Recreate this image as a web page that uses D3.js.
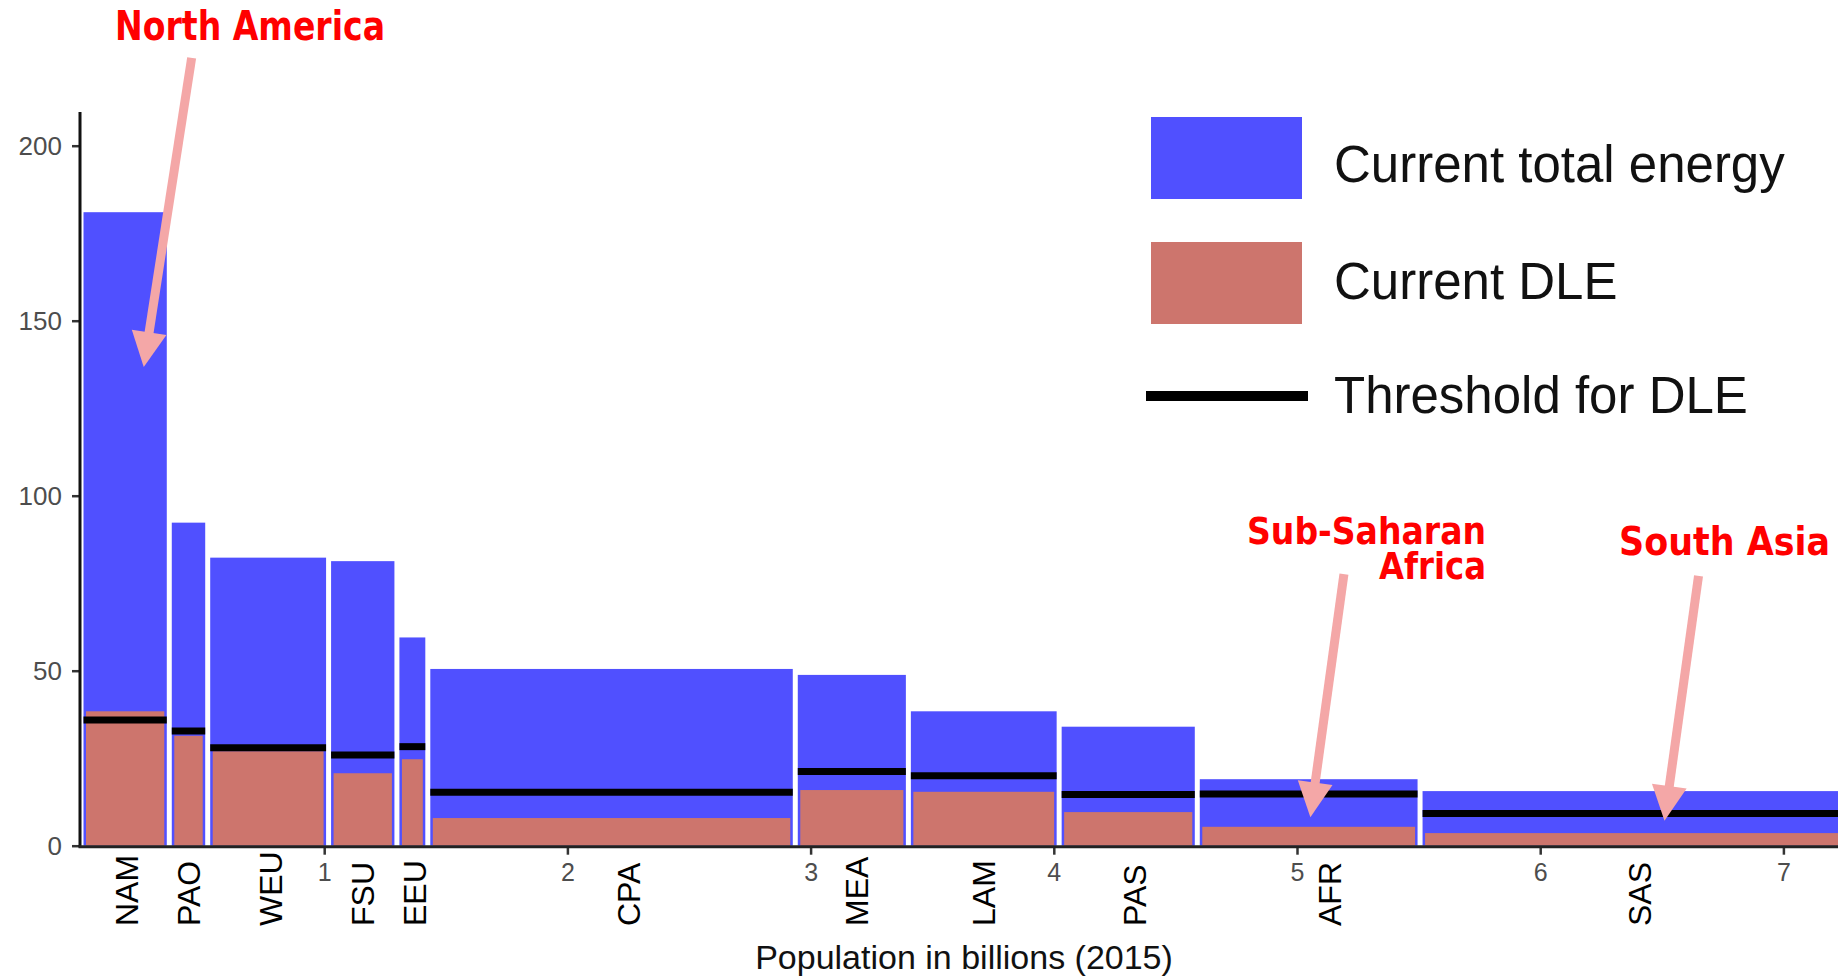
<!DOCTYPE html>
<html>
<head>
<meta charset="utf-8">
<script src="https://cdn.jsdelivr.net/npm/d3@7"></script>
<style>
  html, body { margin: 0; padding: 0; background: #fff; }
  svg { display: block; }
</style>
</head>
<body>
<svg id="chart" width="1838" height="976"></svg>
<script>
// Regions (MESSAGE 11-region grouping), ordered by current per-capita energy use
const regions = ["NAM", "PAO", "WEU", "FSU", "EEU", "CPA", "MEA", "LAM", "PAS", "AFR", "SAS"];
// Population in billions (2015) — sets each bar's width
const population = [0.363, 0.158, 0.497, 0.281, 0.127, 1.511, 0.465, 0.620, 0.568, 0.916, 1.804];
// Current total final energy per capita (GJ/cap/yr)
const totalEnergy = [181.0, 92.3, 82.3, 81.3, 59.5, 50.5, 48.8, 38.4, 34.0, 19.0, 15.6];
// Current energy for decent living (DLE)
const currentDLE = [38.4, 31.4, 27.0, 20.7, 24.7, 7.9, 15.9, 15.4, 9.6, 5.4, 3.6];
// Energy threshold needed for DLE
const thresholdDLE = [35.9, 32.8, 28.0, 25.9, 28.3, 15.3, 21.2, 20.0, 14.6, 14.8, 9.2];

const yTicks = [0, 50, 100, 150, 200];
const xTicks = [1, 2, 3, 4, 5, 6, 7];
const xTitle = "Population in billions (2015)";
const legendLabels = ["Current total energy", "Current DLE", "Threshold for DLE"];

// Horizontal nudge (px) of each region label away from its bar centre,
// so labels clear the numeric tick labels
const labelNudge = [2, 0, 3, 0, 2, 17, 5, 0, 7, 21, 0];

// Callouts: arrow tail and tip in data units (population, energy)
const callouts = [
  { lines: ["North America"], tail: [0.455, 225.1], tip: [0.258, 136.8] },
  { lines: ["Sub-Saharan", "Africa"], tail: [5.193, 77.6], tip: [5.055, 8.1] },
  { lines: ["South Asia"], tail: [6.651, 77.1], tip: [6.511, 7.1] }
];

const COLOR_TOTAL = "#5050FF";
const COLOR_DLE = "#CD756D";
const COLOR_ARROW = "#F4A7A7";
const COLOR_NOTE = "#FF0000";

const svg = d3.select("#chart");

const x = d3.scaleLinear().domain([0, 7]).range([81, 81 + 7 * 243.2]);
const y = d3.scaleLinear().domain([0, 200]).range([845.7, 145.7]);
const yTop = 209.6;

// Cumulative x extents for each region
const ends = Array.from(d3.cumsum(population));
const data = regions.map((r, i) => ({
  region: r,
  x0: i === 0 ? 0 : ends[i - 1],
  x1: ends[i],
  total: totalEnergy[i],
  dle: currentDLE[i],
  thr: thresholdDLE[i],
  nudge: labelNudge[i]
}));

const inset = 2.5;
const bars = svg.append("g");

bars.selectAll("rect.total").data(data).join("rect")
  .attr("class", "total")
  .attr("x", d => x(d.x0) + inset)
  .attr("width", d => x(d.x1) - x(d.x0) - 2 * inset)
  .attr("y", d => y(d.total))
  .attr("height", d => y(0) - y(d.total))
  .attr("fill", COLOR_TOTAL);

bars.selectAll("rect.dle").data(data).join("rect")
  .attr("class", "dle")
  .attr("x", d => x(d.x0) + 2 * inset)
  .attr("width", d => x(d.x1) - x(d.x0) - 4 * inset)
  .attr("y", d => y(d.dle))
  .attr("height", d => y(0) - y(d.dle))
  .attr("fill", COLOR_DLE);

bars.selectAll("line.thr").data(data).join("line")
  .attr("class", "thr")
  .attr("x1", d => x(d.x0) + inset)
  .attr("x2", d => x(d.x1) - inset)
  .attr("y1", d => y(d.thr))
  .attr("y2", d => y(d.thr))
  .attr("stroke", "#000")
  .attr("stroke-width", 7);

// Y axis
const yAxis = svg.append("g")
  .attr("transform", "translate(80,0)")
  .call(d3.axisLeft(y).tickValues(yTicks).tickSize(8).tickPadding(10).tickSizeOuter(0));
yAxis.select(".domain").remove();
yAxis.selectAll(".tick line").attr("stroke", "#333").attr("stroke-width", 2.5);
yAxis.selectAll(".tick text")
  .attr("fill", "#4D4D4D")
  .style("font-family", "'Liberation Sans', Arial, sans-serif")
  .style("font-size", "26px");
svg.append("line")
  .attr("x1", 80).attr("x2", 80)
  .attr("y1", y(yTop)).attr("y2", y(0) + 1.5)
  .attr("stroke", "#111").attr("stroke-width", 3);

// X axis
const xAxis = svg.append("g")
  .attr("transform", `translate(0,${y(0) + 1})`)
  .call(d3.axisBottom(x).tickValues(xTicks).tickFormat(d3.format("d"))
    .tickSize(8).tickPadding(9).tickSizeOuter(0));
xAxis.select(".domain").remove();
xAxis.selectAll(".tick line").attr("stroke", "#333").attr("stroke-width", 2.5);
xAxis.selectAll(".tick text")
  .attr("fill", "#4D4D4D")
  .style("font-family", "'Liberation Sans', Arial, sans-serif")
  .style("font-size", "25px");
svg.append("line")
  .attr("x1", 78.5).attr("x2", 1838)
  .attr("y1", y(0) + 1).attr("y2", y(0) + 1)
  .attr("stroke", "#222").attr("stroke-width", 3);

// Region labels, rotated, under each bar
svg.append("g").selectAll("text").data(data).join("text")
  .attr("transform", d => `translate(${x((d.x0 + d.x1) / 2) + d.nudge},926) rotate(-90)`)
  .attr("dy", "0.35em")
  .attr("text-anchor", "start")
  .attr("fill", "#000")
  .style("font-family", "'Liberation Sans', Arial, sans-serif")
  .style("font-size", "32px")
  .text(d => d.region);

// X axis title
svg.append("text")
  .attr("x", 964).attr("y", 969)
  .attr("text-anchor", "middle")
  .attr("fill", "#111")
  .style("font-family", "'Liberation Sans', Arial, sans-serif")
  .style("font-size", "34px")
  .text(xTitle);

// Legend
const legend = svg.append("g");
legend.append("rect").attr("x", 1151).attr("y", 117).attr("width", 151).attr("height", 82).attr("fill", COLOR_TOTAL);
legend.append("rect").attr("x", 1151).attr("y", 242).attr("width", 151).attr("height", 82).attr("fill", COLOR_DLE);
legend.append("line").attr("x1", 1146).attr("x2", 1308).attr("y1", 396).attr("y2", 396)
  .attr("stroke", "#000").attr("stroke-width", 10);
const legendBaselines = [181.7, 299.3, 413];
legend.selectAll("text").data(legendLabels).join("text")
  .attr("x", 1334)
  .attr("y", (d, i) => legendBaselines[i])
  .attr("fill", "#111")
  .style("font-family", "'Liberation Sans', Arial, sans-serif")
  .style("font-size", "51px")
  .text(d => d);

// Callout arrows
const headLen = 35, headHalf = 17.5;
const arrows = svg.append("g");
callouts.forEach(c => {
  const tx = x(c.tail[0]), ty = y(c.tail[1]);
  const px = x(c.tip[0]), py = y(c.tip[1]);
  const dx = px - tx, dy = py - ty;
  const len = Math.hypot(dx, dy);
  const ux = dx / len, uy = dy / len;
  const bx = px - ux * headLen, by = py - uy * headLen;
  arrows.append("line")
    .attr("x1", tx).attr("y1", ty)
    .attr("x2", bx + ux * 2).attr("y2", by + uy * 2)
    .attr("stroke", COLOR_ARROW).attr("stroke-width", 9);
  arrows.append("polygon")
    .attr("points", [
      [px, py],
      [bx - uy * headHalf, by + ux * headHalf],
      [bx + uy * headHalf, by - ux * headHalf]
    ].map(p => p.join(",")).join(" "))
    .attr("fill", COLOR_ARROW);
});

// Callout texts (one text element per callout, one tspan per line)
const noteFont = "'DejaVu Sans Condensed', 'DejaVu Sans', Verdana, sans-serif";
const notes = [
  { lines: callouts[0].lines, x: 115, y: 39.5, anchor: "start", lens: [270], size: 40 },
  { lines: callouts[1].lines, x: 1486, y: 544, anchor: "end", lens: [239, 107], size: 38 },
  { lines: callouts[2].lines, x: 1830, y: 555, anchor: "end", lens: [211], size: 39 }
];
const noteText = svg.append("g").selectAll("text").data(notes).join("text")
  .attr("text-anchor", d => d.anchor)
  .attr("fill", COLOR_NOTE)
  .style("font-family", noteFont)
  .style("font-weight", "bold")
  .style("font-size", d => d.size + "px");
noteText.each(function(d) {
  d.lines.forEach((line, i) => {
    d3.select(this).append("tspan")
      .attr("x", d.x)
      .attr("y", d.y + i * 35)
      .attr("textLength", d.lens[i])
      .attr("lengthAdjust", "spacingAndGlyphs")
      .text(line);
  });
});
</script>
</body>
</html>
